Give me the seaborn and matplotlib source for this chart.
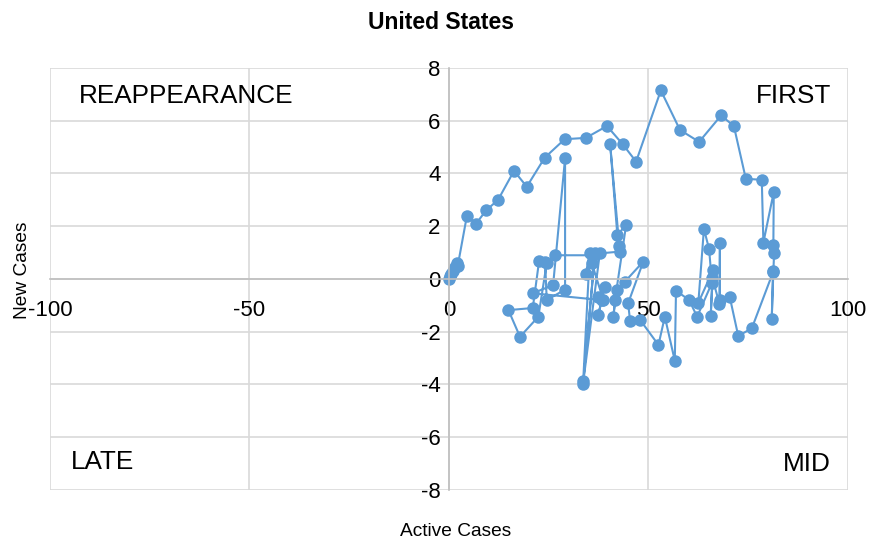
import matplotlib
matplotlib.use("Agg")
import matplotlib.pyplot as plt
import seaborn as sns
import pandas as pd

# Path of the series (in time order)
active_cases = [
    0.0, 0.2, 0.5, 0.9, 1.4, 2.0, 2.2,
    4.5, 6.8, 9.3, 12.3, 16.3, 19.5, 24.0, 29.0, 34.3, 39.6, 43.6, 46.9,
    53.1, 57.9, 62.7, 68.2, 71.4, 74.4, 78.4, 78.8, 81.4, 81.3, 81.5, 81.3,
    80.9, 81.2, 75.9, 72.5, 70.4, 67.9, 67.9, 67.8, 66.0, 65.6, 66.2, 62.5,
    63.9, 65.2, 65.9, 62.2, 60.2, 56.9, 56.6, 54.1, 52.5, 47.9, 45.4, 44.9,
    48.7, 44.1, 42.0, 41.2, 41.6, 44.4, 42.2, 40.4, 42.7, 42.9, 37.8, 33.7,
    36.6, 33.6, 35.3, 34.3, 35.8, 38.7, 37.4, 39.1, 37.4, 38.3, 21.0, 26.1,
    29.1, 29.1, 24.5, 24.1, 22.6, 21.0, 14.9, 17.8, 22.4, 24.5, 26.6, 36.0,
]
new_cases = [
    0.0, 0.1, 0.2, 0.3, 0.45, 0.6, 0.5,
    2.4, 2.1, 2.6, 3.0, 4.1, 3.5, 4.6, 5.3, 5.35, 5.8, 5.1, 4.45,
    7.15, 5.65, 5.2, 6.2, 5.8, 3.8, 3.76, 1.38, 3.3, 1.29, 1.0, 0.3,
    -1.5, 0.25, -1.87, -2.16, -0.7, -0.8, 1.35, -0.95, 0.05, -1.4, 0.34, -0.9,
    1.9, 1.13, -0.15, -1.43, -0.8, -0.44, -3.1, -1.43, -2.5, -1.55, -1.6, -0.92,
    0.66, -0.1, -0.42, -1.43, -0.8, 2.05, 1.67, 5.1, 1.25, 1.04, 0.97, -3.85,
    0.97, -4.0, 1.0, 0.2, 0.6, -0.8, -0.67, -0.29, -1.37, -0.8, -0.54, -0.23,
    4.58, -0.4, -0.8, 0.66, 0.7, -1.1, -1.18, -2.19, -1.43, 0.6, 0.9, 0.9,
]

x_ticks = [-100, -50, 0, 50, 100]
y_ticks = [-8, -6, -4, -2, 0, 2, 4, 6, 8]
quadrants = ["REAPPEARANCE", "FIRST", "LATE", "MID"]

df = pd.DataFrame({"Active Cases": active_cases, "New Cases": new_cases})

sns.set_theme(style="white")
plt.rcParams["font.family"] = ["Liberation Sans", "DejaVu Sans"]
plt.rcParams["text.color"] = "black"

fig = plt.figure(figsize=(8.69, 5.47), dpi=100)
ax = fig.add_axes([0.0575, 0.1042, 0.9183, 0.7715])

blue = "#5B9BD5"
sns.lineplot(data=df, x="Active Cases", y="New Cases", sort=False,
             estimator=None, color=blue, linewidth=1.5, marker="o",
             markersize=9, markeredgewidth=0, ax=ax)

ax.set_xlim(-100, 100)
ax.set_ylim(-8, 8)
ax.set_xticks(x_ticks)
ax.set_yticks(y_ticks)
ax.set_xticklabels([str(t) for t in x_ticks])
ax.set_yticklabels([str(t) for t in y_ticks])

ax.grid(True, color="#D9D9D9", linewidth=1.2)
ax.set_axisbelow(True)
for side in ["top", "right"]:
    ax.spines[side].set_visible(False)
ax.spines["left"].set_position("zero")
ax.spines["bottom"].set_position("zero")
ax.spines["left"].set_color("#BFBFBF")
ax.spines["bottom"].set_color("#BFBFBF")
ax.spines["left"].set_linewidth(1.2)
ax.spines["bottom"].set_linewidth(1.2)
ax.tick_params(axis="both", length=0, labelsize=16, colors="black")
ax.tick_params(axis="x", pad=15)
ax.tick_params(axis="y", pad=6)

ax.set_xlabel("")
ax.set_ylabel("")
fig.text(0.524, 0.029, "Active Cases", ha="center", va="center",
         fontsize=13.8, color="black")
fig.text(0.026, 0.506, "New Cases", ha="center", va="center",
         fontsize=13.8, rotation=90, color="black")
fig.text(0.507, 0.958, "United States", ha="center", va="center",
         fontsize=16.5, fontweight="bold", color="black")

ax.text(-92.8, 6.95, quadrants[0], ha="left", va="center", fontsize=18.8,
        color="black")
ax.text(95.7, 6.95, quadrants[1], ha="right", va="center", fontsize=18.8,
        color="black")
ax.text(-94.8, -6.95, quadrants[2], ha="left", va="center", fontsize=18.8,
        color="black")
ax.text(95.7, -7.0, quadrants[3], ha="right", va="center", fontsize=18.8,
        color="black")

fig.savefig("out.png", dpi=100)
